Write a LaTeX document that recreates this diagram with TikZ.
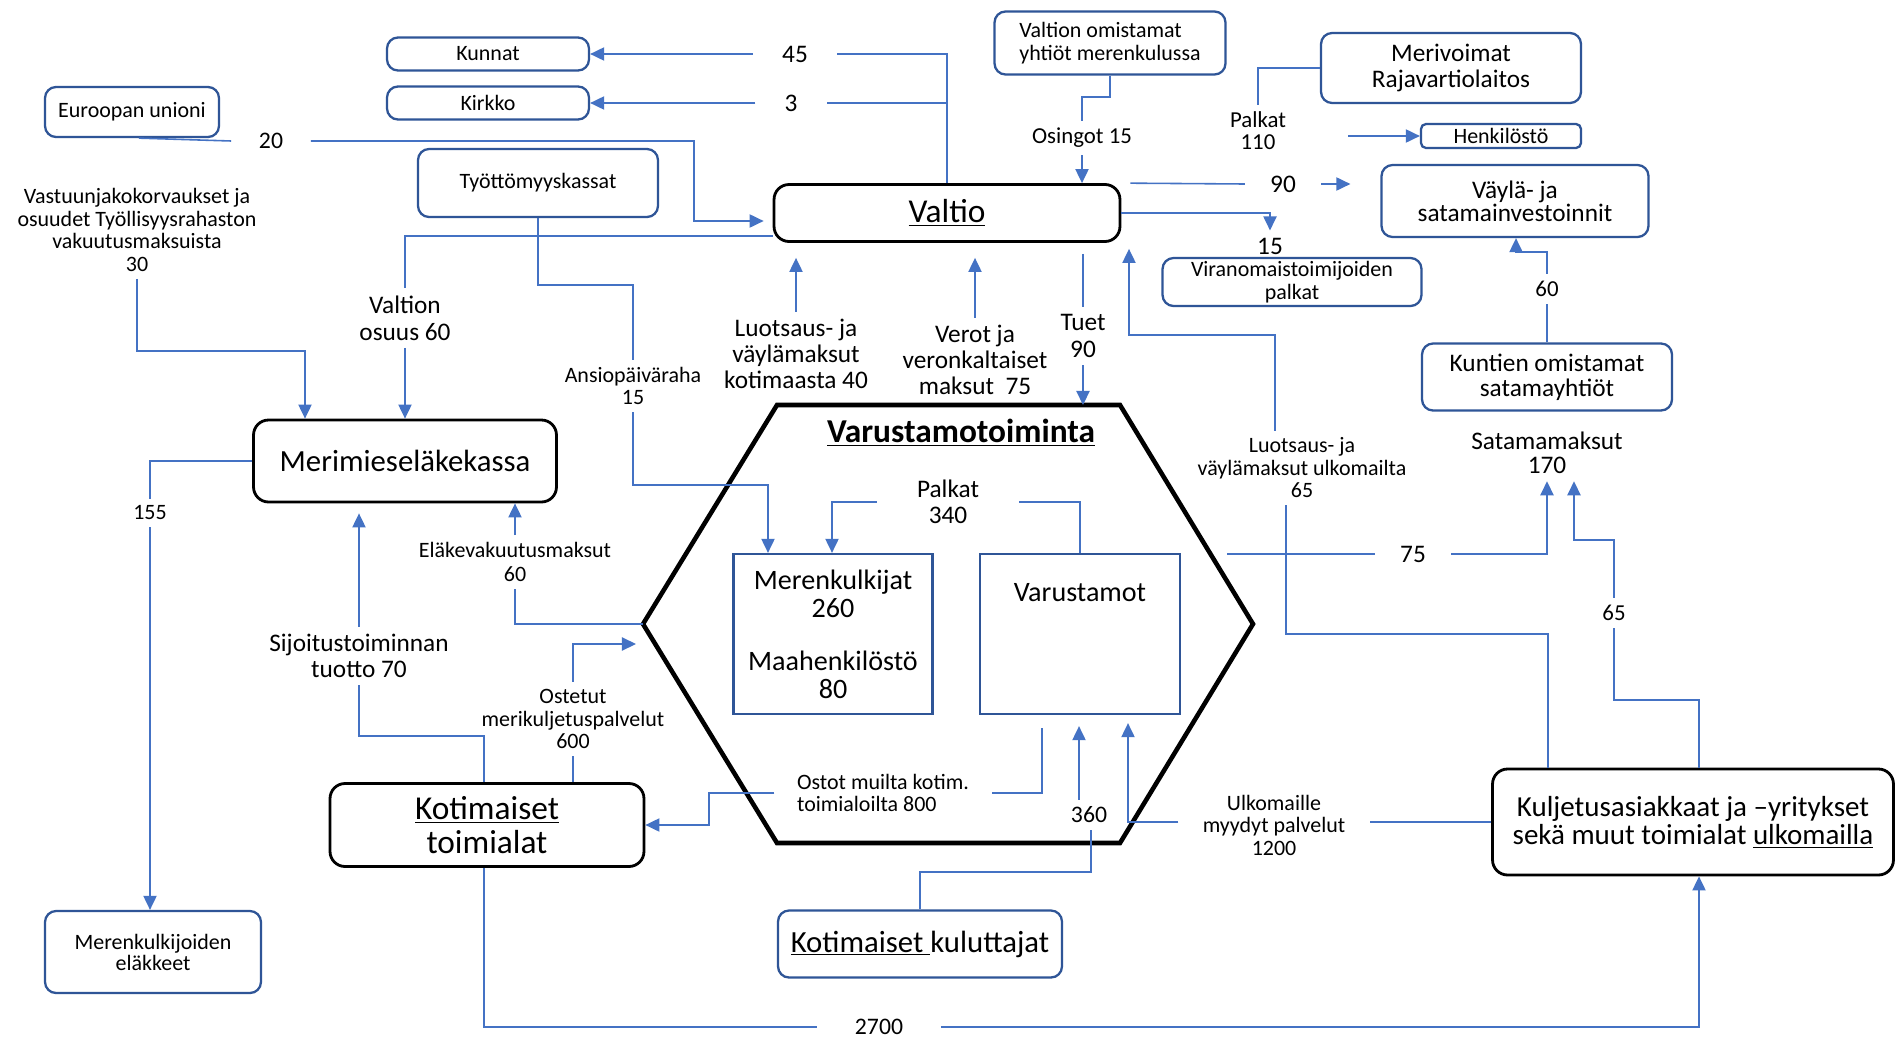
\documentclass[tikz,border=0pt]{standalone}
\usepackage{fontspec}
\setmainfont{Carlito}
\usetikzlibrary{arrows.meta}

\definecolor{flowblue}{RGB}{68,114,196}
\definecolor{edgeblue}{RGB}{47,85,151}

\begin{document}
\begin{tikzpicture}[
      x=0.02cm, y=0.02cm,
      desc/.style={
        rectangle,
        rounded corners=0.22cm,
        draw=edgeblue,
        line width=1.3pt,
        align=center,
        inner sep=1pt,
        font=\fontsize{12.5}{13}\selectfont
      },
      descb/.style={
        desc,
        draw=black,
        line width=1.6pt,
        rounded corners=0.3cm
      },
      part/.style={
        rectangle,
        draw=edgeblue,
        line width=1.3pt,
        align=center,
        font=\fontsize{16}{16}\selectfont
      },
      amount/.style={
        inner xsep=1pt,
        inner ysep=0.14cm,
        align=center,
        font=\fontsize{12.5}{12.8}\selectfont
      },
      amountm/.style={
        amount,
        font=\fontsize{14.4}{14.8}\selectfont
      },
      flow/.style={
        draw=flowblue,
        line width=0.9pt
      },
      flowto/.style={
        flow,
        -{Triangle[length=8pt,width=7.5pt]}
      }
    ]

    \path[use as bounding box, fill=white] (0,0) rectangle (1897,-1041);

    % boxes
    \node [desc, minimum width=4.04cm, minimum height=0.66cm] (Kunnat) at (488,-54) {Kunnat};
    \node [desc, minimum width=4.04cm, minimum height=0.66cm] (Kirkko) at (488,-103) {Kirkko};
    \node [desc, minimum width=3.48cm, minimum height=1cm] (EU) at (132,-112) {Euroopan unioni};
    \node [desc, minimum width=4.8cm, minimum height=1.36cm] (Tyott) at (538,-183) {Työttömyyskassat};
    \node [descb, minimum width=6.92cm, minimum height=1.14cm, font=\fontsize{19}{19}\selectfont] (Valtio) at (947,-213) {\underline{Valtio}};
    \node [desc, minimum width=4.62cm, minimum height=1.26cm, align=left, font=\fontsize{12.5}{12.8}\selectfont] (ValtOm) at (1110,-43) {Valtion omistamat\\yhtiöt merenkulussa};
    \node [desc, minimum width=5.2cm, minimum height=1.4cm, font=\fontsize{14.4}{14.4}\selectfont] (Meriv) at (1451,-68) {Merivoimat\\Rajavartiolaitos};
    \node [desc, minimum width=3.2cm, minimum height=0.48cm, rounded corners=0.1cm] (Henk) at (1501,-136) {Henkilöstö};
    \node [desc, minimum width=5.34cm, minimum height=1.44cm, font=\fontsize{14.4}{13.2}\selectfont] (Vayla) at (1515,-201) {Väylä- ja\\satamainvestoinnit};
    \node [desc, minimum width=5.18cm, minimum height=0.96cm] (Viran) at (1292,-282) {Viranomaistoimijoiden\\palkat};
    \node [desc, minimum width=5cm, minimum height=1.34cm, font=\fontsize{14.4}{14.4}\selectfont] (KuntSat) at (1547,-377) {Kuntien omistamat\\satamayhtiöt};
    \node [descb, minimum width=6.06cm, minimum height=1.64cm, font=\fontsize{17.5}{17.5}\selectfont] (MEK) at (405,-461) {Merimieseläkekassa};
    \node [desc, minimum width=4.32cm, minimum height=1.64cm, font=\fontsize{12.5}{12}\selectfont] (Elakkeet) at (153,-952) {Merenkulkijoiden\\eläkkeet};
    \node [descb, minimum width=6.28cm, minimum height=1.66cm, font=\fontsize{19}{19}\selectfont] (KotiToim) at (487,-825) {\underline{Kotimaiset}\\toimialat};
    \node [desc, minimum width=5.68cm, minimum height=1.34cm, font=\fontsize{17.5}{17.5}\selectfont] (KotiKul) at (920,-944) {\underline{Kotimaiset\ }kuluttajat};
    \node [descb, minimum width=8.02cm, minimum height=2.12cm, font=\fontsize{16.5}{16}\selectfont] (Ulkom) at (1693,-822) {Kuljetusasiakkaat ja –yritykset\\sekä muut toimialat \underline{ulkomailla}};

    % varustamotoiminta
    \coordinate (hA) at (777,-405);
    \coordinate (hB) at (1120,-405);
    \coordinate (hC) at (1253,-624);
    \coordinate (hD) at (1120,-843);
    \coordinate (hE) at (777,-843);
    \coordinate (hF) at (643,-624);
    \draw [line width=2.6pt, line join=miter] (hA) -- (hB) -- (hC) -- (hD) -- (hE) -- (hF) -- cycle;
    \node [font=\bfseries\fontsize{19}{19}\selectfont] (VarTitle) at (961,-433) {\underline{Varustamotoiminta}};
    \node [part, minimum width=3.98cm, minimum height=3.2cm] (Merenk) at (833,-634) {Merenkulkijat\\260\\[14pt]Maahenkilöstö\\80};
    \node [part, minimum width=4cm, minimum height=3.2cm] (Varust) at (1080,-634) {};
    \node [font=\fontsize{16}{16}\selectfont] (VarustT) at (1080,-593) {Varustamot};

    % amounts
    \node [amountm, inner xsep=0.58cm] (L45) at (795,-54) {45};
    \node [amountm, inner xsep=0.58cm] (L3) at (791,-103) {3};
    \node [amount, inner xsep=0.55cm, font=\fontsize{13.5}{13.5}\selectfont] (L20) at (271,-141) {20};
    \node [amount] (Vastuu) at (137,-230) {Vastuunjakokorvaukset ja\\osuudet Työllisyysrahaston\\vakuutusmaksuista\\30};
    \node [amountm, font=\fontsize{14.4}{15.4}\selectfont] (ValtOs) at (405,-318) {Valtion\\osuus 60};
    \node [amount] (Ansio) at (633,-386) {Ansiopäiväraha\\15};
    \node [amountm] (LuotsK) at (796,-354) {Luotsaus- ja\\väylämaksut\\kotimaasta 40};
    \node [amountm] (Verot) at (975,-360) {Verot ja\\veronkaltaiset\\maksut\ \ 75};
    \node [amountm, font=\fontsize{14.4}{15.4}\selectfont] (Tuet) at (1083,-336) {Tuet\\90};
    \node [amount, font=\fontsize{13}{13}\selectfont] (Osingot) at (1082,-138) {Osingot 15};
    \node [amount, font=\fontsize{13}{12.5}\selectfont] (Palk110) at (1258,-131) {Palkat\\110};
    \node [amountm, inner xsep=0.5cm] (L90) at (1283,-184) {90};
    \node [amountm] (L15) at (1270,-246) {15};
    \node [amount, font=\fontsize{13}{13}\selectfont] (L60) at (1547,-289) {60};
    \node [amount] (LuotsU) at (1302,-468) {Luotsaus- ja\\väylämaksut ulkomailta\\65};
    \node [amountm, font=\fontsize{14.4}{13.7}\selectfont] (Satama) at (1547,-453) {Satamamaksut\\170};
    \node [amountm, inner xsep=0.5cm] (L75) at (1413,-554) {75};
    \node [amount, font=\fontsize{13}{13}\selectfont] (L65) at (1614,-613) {65};
    \node [amount, inner xsep=0.48cm] (Myydyt) at (1274,-825) {Ulkomaille\\myydyt palvelut\\1200};
    \node [amount, font=\fontsize{13.5}{13.5}\selectfont] (L360) at (1089,-815) {360};
    \node [amount, align=left, inner xsep=0.45cm] (Ostot) at (883,-793) {Ostot muilta kotim.\\toimialoilta 800};
    \node [amount] (Ostetut) at (573,-719) {Ostetut\\merikuljetuspalvelut\\600};
    \node [amount, font=\fontsize{12.5}{13.5}\selectfont] (ElakeM) at (515,-562) {Eläkevakuutusmaksut\\60};
    \node [amountm] (Sijoit) at (359,-656) {Sijoitustoiminnan\\tuotto 70};
    \node [amount] (L155) at (150,-513) {155};
    \node [amount, inner xsep=0.75cm, inner ysep=1pt, font=\fontsize{13.5}{13.5}\selectfont] (L2700) at (879,-1027) {2700};
    \node [amountm, inner xsep=0.8cm] (Palk340) at (948,-502) {Palkat\\340};

    % flows
    \draw [flow] (Valtio.north) |- (L45.east);
    \draw [flowto] (L45.west) -- (Kunnat.east);
    \draw [flow] (Valtio.north |- L3.east) -- (L3.east);
    \draw [flowto] (L3.west) -- (Kirkko.east);
    \draw [flow] ([xshift=0.14cm]EU.south) -- (L20.west);
    \draw [flowto, shorten >=0.18cm] (L20.east) -| (694,-221) -- ([yshift=-0.16cm]Valtio.west);
    \draw [flow] ([yshift=-0.46cm]Valtio.west) -| (ValtOs.north);
    \draw [flowto] (ValtOs.south) -- (MEK.north -| ValtOs.south);
    \draw [flowto] (Vastuu.south) |- (305,-351) -- (MEK.north -| 305,-351);
    \draw [flow] (Tyott.south) |- (633,-285) -- (Ansio.north);
    \draw [flowto] (Ansio.south) |- (768,-485) -- (Merenk.north -| 768,-485);
    \draw [flowto, shorten >=0.3cm] (LuotsK.north) -- (Valtio.south -| LuotsK.north);
    \draw [flowto, shorten >=0.3cm] (Verot.north) -- (Valtio.south -| Verot.north);
    \draw [flow, shorten <=0.22cm] (Valtio.south -| Tuet.north) -- (Tuet.north);
    \draw [flowto] (Tuet.south) -- (Tuet.south |- hA);
    \draw [flow] (ValtOm.south) |- (1082,-97) -- (Osingot.north);
    \draw [flowto] (Osingot.south) -- (Valtio.north -| Osingot.south);
    \draw [flow, shorten <=0.18cm] (Valtio.north east) -- (L90.west);
    \draw [flowto, shorten >=0.6cm] (L90.east) -- (Vayla.west |- L90.east);
    \draw [flowto] (Valtio.east) -| (L15.north);
    \draw [flow] (Meriv.west) -| (Palk110.north);
    \draw [flowto, shorten <=1.2cm] (Palk110.east |- Henk.west) -- (Henk.west);
    \draw [flow] (KuntSat.north) -- (L60.south);
    \draw [flowto] (L60.north) |- (1516,-252) -- (Vayla.south -| 1516,-252);
    \draw [flow] (Ulkom.north -| 1548,0) |- (1286,-634) -- (LuotsU.south -| 1286,0);
    \draw [flowto, shorten >=0.12cm] (LuotsU.north -| 1275,0) |- (1129,-335) -- (Valtio.south -| 1129,-335);
    \coordinate (h75) at (1227,-554);
    \draw [flow] (h75) -- (L75.west);
    \draw [flowto] (L75.east) -| (Satama.south);
    \draw [flow] (Ulkom.north -| 1699,0) |- (1614,-700) -- (L65.south);
    \draw [flowto] (L65.north) |- (1574,-540) -- (Satama.south -| 1574,-540);
    \draw [flow] (Ulkom.west) -- (Myydyt.east |- Ulkom.west);
    \draw [flowto, shorten >=0.16cm] (Myydyt.west |- Ulkom.west) -| (Varust.south -| 1128,0);
    \draw [flow] (KotiKul.north) |- (1091,-872) -- (L360.south -| 1091,0);
    \draw [flowto, shorten >=0.22cm] (L360.north -| 1079,0) -- (Varust.south -| 1079,0);
    \draw [flow, shorten <=0.26cm] (Varust.south -| 1042,0) |- (Ostot.east);
    \draw [flowto] (Ostot.west) -| (709,-825) -- (KotiToim.east);
    \draw [flow] (KotiToim.north -| Ostetut.south) -- (Ostetut.south);
    \coordinate (h600) at (636,-644);
    \draw [flowto] (Ostetut.north) |- (h600);
    \draw [flow] (hF) -| (ElakeM.south);
    \draw [flowto] (ElakeM.north) -- (MEK.south -| ElakeM.north);
    \draw [flow] (KotiToim.north -| 484,0) |- (359,-736) -- (Sijoit.south);
    \draw [flowto, shorten >=0.2cm] (Sijoit.north) -- (MEK.south -| Sijoit.north);
    \draw [flow] (MEK.west) -| (L155.north);
    \draw [flowto] (L155.south) -- (Elakkeet.north -| L155.south);
    \draw [flow] (KotiToim.south -| 484,0) |- (L2700.west);
    \draw [flowto] (L2700.east) -| (Ulkom.south -| 1699,0);
    \draw [flow] (Varust.north) |- (Palk340.east);
    \draw [flowto] (Palk340.west) -| (Merenk.north -| 832,0);

    \end{tikzpicture}
\end{document}
